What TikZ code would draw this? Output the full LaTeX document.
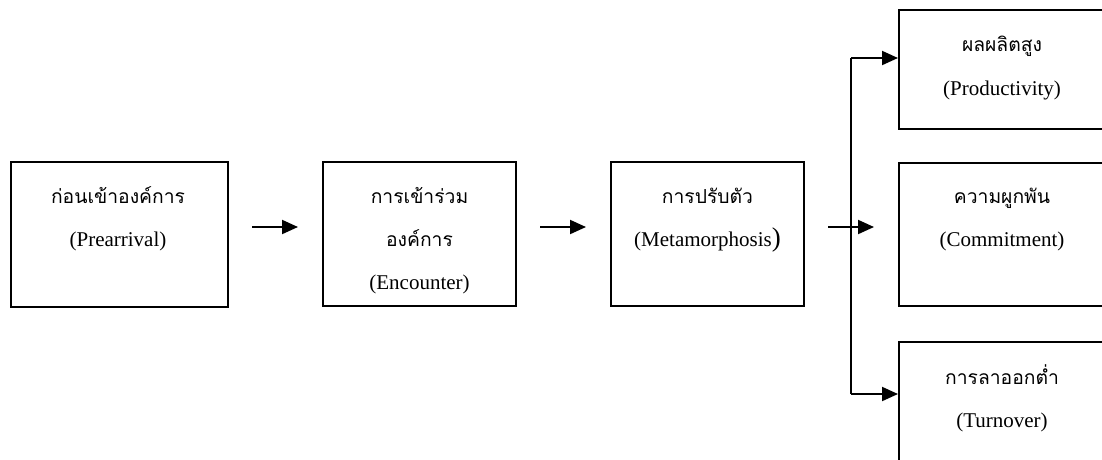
\documentclass[tikz,border=0pt]{standalone}
\usepackage{fontspec}
\setmainfont{Liberation Serif}
\newfontfamily\thaifont[Script=Thai]{Loma}
\usetikzlibrary{arrows.meta}

\tikzset{
  stage/.style={draw=black, line width=2pt, fill=none, inner sep=0pt},
  flow/.style={line width=2pt, -{Triangle[length=16pt,width=14pt]}},
  link/.style={line width=2pt},
  th/.style={anchor=base, font=\thaifont\fontsize{19.3}{19.3}\selectfont, inner sep=0pt},
  en/.style={anchor=base, font=\fontsize{21}{21}\selectfont, inner sep=0pt}
}

\begin{document}
\begin{tikzpicture}[x=1pt, y=-1pt]
  \useasboundingbox (0,0) rectangle (1102,459);
  \clip (0,0) rectangle (1102,459);

  % main stages
  \node[stage, minimum width=217pt, minimum height=145pt] (pre) at (119.5,234.5) {};
  \node[stage, minimum width=193pt, minimum height=144pt] (enc) at (419.5,234) {};
  \node[stage, minimum width=193pt, minimum height=144pt] (met) at (707.5,234) {};

  % outcomes (boxes run past the page edge)
  \node[stage, minimum width=240pt, minimum height=119pt] (pro) at (1019,69.5) {};
  \node[stage, minimum width=240pt, minimum height=143pt] (com) at (1019,234.5) {};
  \node[stage, minimum width=240pt, minimum height=130pt] (tur) at (1019,407) {};

  % labels
  \node[th] at (118,203) {ก่อนเข้าองค์การ};
  \node[en] at (118,246.5) {(Prearrival)};

  \node[th] at (419.5,203) {การเข้าร่วม};
  \node[th] at (419.5,246.5) {องค์การ};
  \node[en] at (419.5,289) {(Encounter)};

  \node[th] at (707.5,203) {การปรับตัว};
  \node[en] at (707.5,246.5) {(Metamorphosis{\fontsize{27}{27}\selectfont)}};

  \node[th] at (1002,51) {ผลผลิตสูง};
  \node[en] at (1002,95) {(Productivity)};

  \node[th] at (1002,203) {ความผูกพัน};
  \node[en] at (1002,246.5) {(Commitment)};

  \node[th] at (1002,384) {การลาออกต่ำ};
  \node[en] at (1002,427) {(Turnover)};

  % connectors
  \draw[flow, shorten <=23pt, shorten >=24pt] (pre.east |- 0,227) -- (enc.west |- 0,227);
  \draw[flow, shorten <=23pt, shorten >=24pt] (enc.east |- 0,227) -- (met.west |- 0,227);

  \coordinate (split) at (851,227);
  \coordinate (splitTop) at (851,58);
  \coordinate (splitBot) at (851,394);
  \draw[flow, shorten <=23pt, shorten >=24pt] (met.east |- split) -- (com.west |- split);
  \draw[link] (splitTop) -- (splitBot);
  \draw[flow] (splitTop) -- (pro.west |- splitTop);
  \draw[flow] (splitBot) -- (tur.west |- splitBot);
\end{tikzpicture}
\end{document}
